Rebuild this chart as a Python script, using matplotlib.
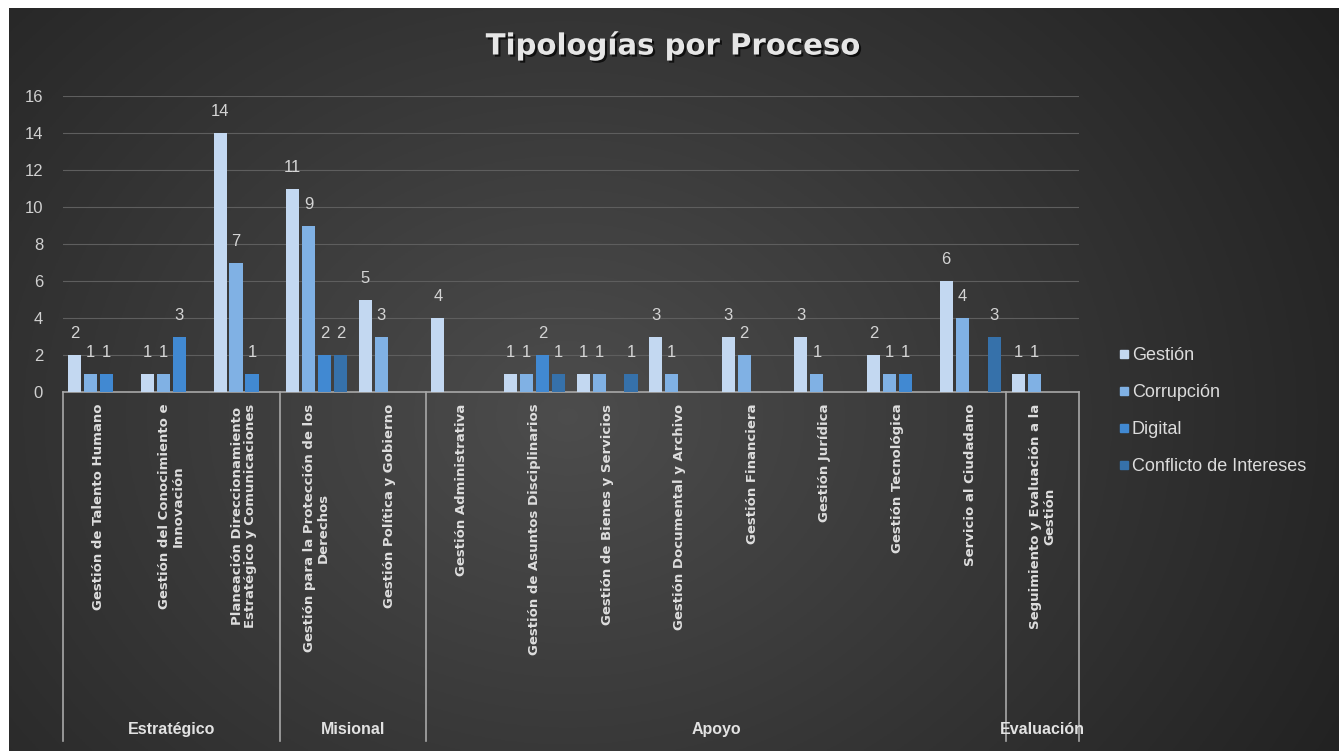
import matplotlib
matplotlib.use("Agg")
import matplotlib.pyplot as plt
import matplotlib.patheffects as pe
from matplotlib.lines import Line2D
import numpy as np

# categories and groups
procesos = [
    "Gestión de Talento Humano",
    "Gestión del Conocimiento e\nInnovación",
    "Planeación Direccionamiento\nEstratégico y Comunicaciones",
    "Gestión para la Protección de los\nDerechos",
    "Gestión Política y Gobierno",
    "Gestión Administrativa",
    "Gestión de Asuntos Disciplinarios",
    "Gestión de Bienes y Servicios",
    "Gestión Documental y Archivo",
    "Gestión Financiera",
    "Gestión Jurídica",
    "Gestión Tecnológica",
    "Servicio al Ciudadano",
    "Seguimiento y Evaluación a la\nGestión",
]
grupos = ["Estratégico", "Misional", "Apoyo", "Evaluación"]
grupo_n = [3, 2, 8, 1]

series = ["Gestión", "Corrupción", "Digital", "Conflicto de Intereses"]
gestion = [2, 1, 14, 11, 5, 4, 1, 1, 3, 3, 3, 2, 6, 1]
corrupcion = [1, 1, 7, 9, 3, 0, 1, 1, 1, 2, 1, 1, 4, 1]
digital = [1, 3, 1, 2, 0, 0, 2, 0, 0, 0, 0, 1, 0, 0]
conflicto = [0, 0, 0, 2, 0, 0, 1, 1, 0, 0, 0, 0, 3, 0]
colores = ["#c3d8f1", "#80b1e4", "#4189d2", "#3671aa"]

W, H = 1339, 751
fig = plt.figure(figsize=(W / 100, H / 100), dpi=100, facecolor="white")

# dark gradient background
bg = fig.add_axes([9 / W, 0, 1 - 9 / W, 1 - 8 / H], zorder=-5)
gx, gy = np.meshgrid(np.linspace(0, 1, 400), np.linspace(0, 1, 300))
r = np.sqrt(((gx - 0.42) / 0.75) ** 2 + ((gy - 0.55) / 1.1) ** 2)
shade = np.clip(0.30 - 0.19 * r, 0.12, 0.30)
bg.imshow(np.dstack([shade] * 3), aspect="auto", extent=(0, 1, 0, 1))
bg.axis("off")

ax = fig.add_axes([62.5 / W, 1 - 392 / H, (1079 - 62.5) / W, (392 - 96) / H])
ax.set_facecolor("none")

x = np.arange(len(procesos))
bw = 0.18
offs = [-0.33, -0.11, 0.11, 0.33]
for vals, off, col in zip([gestion, corrupcion, digital, conflicto], offs, colores):
    bars = ax.bar(x + off, vals, width=bw, color=col, zorder=3)
    for b, v in zip(bars, vals):
        if v > 0:
            ax.text(b.get_x() + b.get_width() / 2, v + 0.75, str(v),
                    ha="center", va="bottom", color="#d4d4d4", fontsize=12,
                    family="Liberation Sans")

ax.set_xlim(-0.5, len(procesos) - 0.5)
ax.set_ylim(0, 16)
ax.set_yticks(range(0, 17, 2))
ax.yaxis.grid(True, color="#5e5e5e", linewidth=0.8, zorder=0)
ax.tick_params(axis="y", length=0, pad=14, labelsize=12, labelcolor="#d0d0d0")
for lbl in ax.get_yticklabels():
    lbl.set_family("Liberation Sans")
ax.set_xticks([])
for s in ["top", "right", "left"]:
    ax.spines[s].set_visible(False)
ax.spines["bottom"].set_color("#a8a8a8")
ax.spines["bottom"].set_linewidth(1.2)

tr = ax.get_xaxis_transform()
for i, name in enumerate(procesos):
    ax.text(i, -0.04, name, rotation=90, ha="center", va="top",
            multialignment="center", color="#dedede", fontsize=9.5,
            fontweight="bold", transform=tr, linespacing=1.05,
            family="DejaVu Sans")

# group separators and labels
bounds = np.concatenate([[0], np.cumsum(grupo_n)]) - 0.5
for b in bounds:
    ax.add_line(Line2D([b, b], [0, -1.18], transform=tr, color="#a8a8a8",
                       linewidth=1.2, clip_on=False))
for g, a, b in zip(grupos, bounds[:-1], bounds[1:]):
    ax.text((a + b) / 2, -1.14, g, ha="center", va="center", color="#e2e2e2",
            fontsize=11.5, fontweight="bold", transform=tr,
            family="Liberation Sans")

fig.text(673 / W, 1 - 46 / H, "Tipologías por Proceso", ha="center", va="center",
         color="#e6e6e6", fontsize=21, fontweight="bold", family="DejaVu Sans",
         path_effects=[pe.withSimplePatchShadow(offset=(1.5, -1.5),
                                                shadow_rgbFace="black", alpha=0.7)])

handles = [Line2D([], [], marker="s", linestyle="none", markersize=6,
                  markerfacecolor=c, markeredgecolor=c) for c in colores]
leg = fig.legend(handles, series, loc="upper left",
                 bbox_to_anchor=(1104 / W, 1 - 331 / H), frameon=False,
                 handlelength=0.45, handletextpad=0.2, labelspacing=1.1,
                 prop={"family": "Liberation Sans", "size": 13})
for t in leg.get_texts():
    t.set_color("#dcdcdc")

fig.savefig("out.png", dpi=100, facecolor="white")
